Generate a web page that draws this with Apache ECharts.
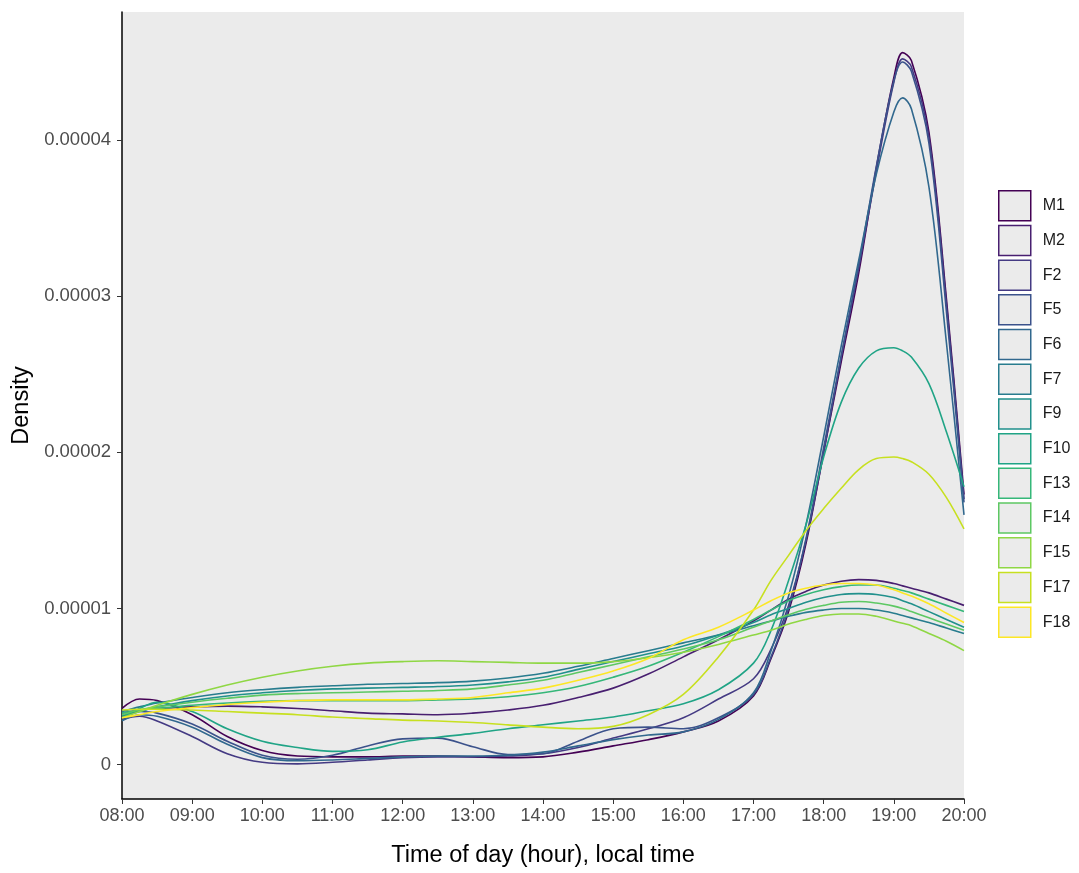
<!DOCTYPE html>
<html>
<head>
<meta charset="utf-8">
<script src="https://cdn.jsdelivr.net/npm/echarts@6/dist/echarts.min.js"></script>
<style>
  html, body { margin: 0; padding: 0; background: #fff; }
  #main { width: 1079px; height: 873px; }
</style>
</head>
<body>
<div id="main"></div>
<script type="text/javascript">
    // hours of day (decimal), shared by every series
    var hours = [8, 8.25, 8.5, 9, 9.5, 10, 10.5, 11, 11.5, 12, 12.5, 13, 13.5, 14, 14.5, 15, 15.5, 16, 16.5, 17,
        17.25, 17.5, 17.75, 18, 18.25, 18.5, 18.75, 19, 19.125, 19.25, 19.5, 19.75, 20];
    var yTicks = [0, 10, 20, 30, 40];

    // density values, in units of 1e-6
    var M1 = [3.6, 4.2, 4.1, 3.2, 1.8, 0.9, 0.55, 0.5, 0.5, 0.55, 0.55, 0.5, 0.45, 0.5, 0.8, 1.2, 1.6, 2.1, 2.8, 4.4,
        6.8, 9.8, 14.2, 20, 25.8, 31.5, 38.2, 44.0, 45.6, 45.1, 40.5, 29.8, 17.3];
    var M2 = [3.3, 3.5, 3.6, 3.7, 3.75, 3.7, 3.6, 3.45, 3.3, 3.25, 3.2, 3.3, 3.5, 3.8, 4.3, 4.9, 5.8, 6.9, 8.0, 9.2,
        9.9, 10.6, 11.1, 11.5, 11.75, 11.85, 11.8, 11.6, 11.45, 11.3, 11.0, 10.6, 10.2];
    var F2 = [2.9, 3.1, 2.8, 1.8, 0.7, 0.15, 0.05, 0.15, 0.3, 0.45, 0.5, 0.5, 0.55, 0.7, 1.1, 1.7, 2.3, 3.0, 4.2, 5.5,
        7.4, 10.2, 14.4, 20.0, 26.1, 31.8, 38.0, 43.7, 45.2, 44.7, 40.2, 29.5, 17.0];
    var F5 = [3.1, 3.4, 3.3, 2.6, 1.5, 0.6, 0.35, 0.6, 1.2, 1.65, 1.7, 1.15, 0.65, 0.7, 1.5, 2.3, 2.4, 2.3, 3.0, 4.5,
        6.9, 10.0, 14.5, 20.3, 26.2, 32.0, 38.3, 43.8, 45.0, 44.4, 39.8, 29.0, 16.8];
    var F6 = [2.8, 3.2, 3.1, 2.4, 1.3, 0.45, 0.25, 0.3, 0.4, 0.5, 0.55, 0.55, 0.6, 0.8, 1.2, 1.6, 1.9, 2.1, 2.9, 4.6,
        7.3, 10.8, 15.4, 21.0, 26.8, 32.3, 37.8, 41.8, 42.7, 42.0, 37.0, 27.0, 16.0];
    var F7 = [3.4, 3.7, 3.95, 4.3, 4.6, 4.8, 4.95, 5.05, 5.15, 5.2, 5.25, 5.35, 5.55, 5.85, 6.3, 6.8, 7.3, 7.8, 8.3, 8.9,
        9.2, 9.5, 9.75, 9.9, 10.0, 10.0, 9.9, 9.7, 9.55, 9.4, 9.1, 8.75, 8.4];
    var F9 = [3.1, 3.4, 3.7, 4.1, 4.4, 4.6, 4.75, 4.85, 4.9, 4.95, 5.0, 5.1, 5.3, 5.6, 6.1, 6.6, 7.1, 7.6, 8.3, 9.1,
        9.6, 10.0, 10.4, 10.7, 10.9, 10.95, 10.9, 10.7, 10.5, 10.3, 9.8, 9.3, 8.8];
    var F10 = [3.0, 3.6, 4.0, 3.4, 2.3, 1.5, 1.1, 0.85, 0.95, 1.45, 1.75, 2.0, 2.3, 2.55, 2.8, 3.05, 3.45, 3.9, 4.8, 6.5,
        8.6, 11.8, 15.4, 19.7, 23.2, 25.4, 26.5, 26.7, 26.5, 26.1, 24.4, 21.3, 17.8];
    var F13 = [3.3, 3.5, 3.6, 3.8, 3.95, 4.05, 4.1, 4.1, 4.1, 4.1, 4.15, 4.2, 4.35, 4.6, 5.0, 5.6, 6.3, 7.2, 8.2, 9.3,
        9.9, 10.5, 10.9, 11.2, 11.4, 11.5, 11.5, 11.3, 11.15, 11.0, 10.6, 10.2, 9.8];
    var F14 = [3.2, 3.5, 3.7, 4.0, 4.25, 4.45, 4.55, 4.6, 4.65, 4.7, 4.75, 4.85, 5.1, 5.4, 5.9, 6.4, 6.9, 7.4, 8.0, 8.8,
        9.2, 9.6, 9.95, 10.2, 10.4, 10.45, 10.35, 10.15, 10.0, 9.8, 9.4, 9.0, 8.6];
    var F15 = [3.0, 3.4, 3.8, 4.5, 5.1, 5.6, 6.0, 6.3, 6.5, 6.6, 6.65, 6.6, 6.55, 6.5, 6.5, 6.6, 6.85, 7.2, 7.7, 8.3,
        8.6, 9.0, 9.3, 9.55, 9.65, 9.65, 9.5, 9.2, 9.05, 8.9, 8.4, 7.9, 7.3];
    var F17 = [3.5, 3.55, 3.55, 3.5, 3.4, 3.3, 3.2, 3.05, 2.95, 2.85, 2.8, 2.7, 2.55, 2.4, 2.3, 2.45, 3.2, 4.5, 6.9, 9.9,
        11.8, 13.4, 15.0, 16.4, 17.7, 18.9, 19.6, 19.7, 19.6, 19.4, 18.6, 17.1, 15.1];
    var F18 = [3.0, 3.2, 3.4, 3.65, 3.85, 4.0, 4.1, 4.15, 4.15, 4.15, 4.2, 4.3, 4.6, 4.9, 5.4, 6.0, 6.8, 8.0, 8.8, 9.9,
        10.5, 11.0, 11.3, 11.5, 11.6, 11.6, 11.5, 11.2, 11.0, 10.8, 10.3, 9.7, 9.1];

    var names = ['M1', 'M2', 'F2', 'F5', 'F6', 'F7', 'F9', 'F10', 'F13', 'F14', 'F15', 'F17', 'F18'];
    var values = [M1, M2, F2, F5, F6, F7, F9, F10, F13, F14, F15, F17, F18];
    // viridis, 13 steps
    var colors = ['#440154', '#481F70', '#443A83', '#3B528B', '#31688E', '#287C8E', '#21908C',
        '#20A486', '#35B779', '#5DC863', '#8FD744', '#C7E020', '#FDE725'];

    var myChart = echarts.init(document.getElementById('main'));
    var font = 'Liberation Sans, Arial, sans-serif';

    var series = [];
    for (var i = 0; i < names.length; i++) {
        var pts = [];
        for (var j = 0; j < hours.length; j++) {
            pts.push([hours[j], values[i][j]]);
        }
        series.push({
            name: names[i],
            type: 'line',
            data: pts,
            smooth: 0.35,
            showSymbol: false,
            lineStyle: { color: colors[i], width: 1.6 },
            itemStyle: { color: colors[i] },
            emphasis: { disabled: true }
        });
    }

    var option = {
        animation: false,
        grid: {
            left: 122, right: 115, top: 12, bottom: 73,
            show: true, backgroundColor: '#EBEBEB', borderWidth: 0
        },
        legend: {
            orient: 'vertical',
            left: 998,
            top: 190,
            padding: 0,
            itemWidth: 32,
            itemHeight: 30,
            itemGap: 3.2,
            textStyle: { fontFamily: font, fontSize: 16, color: '#1a1a1a', padding: [0, 0, 0, 7] },
            data: names.map(function (n, i) {
                return {
                    name: n,
                    icon: 'rect',
                    itemStyle: { color: '#EBEBEB', borderColor: colors[i], borderWidth: 1.5 }
                };
            })
        },
        xAxis: {
            type: 'value',
            min: 8,
            max: 20,
            interval: 1,
            name: 'Time of day (hour), local time',
            nameLocation: 'middle',
            nameGap: 45,
            nameTextStyle: { fontFamily: font, fontSize: 23.5, color: '#000' },
            axisLine: { onZero: false, lineStyle: { color: '#000', width: 1.5 } },
            axisTick: { length: 5, lineStyle: { color: '#333' } },
            axisLabel: {
                fontFamily: font, fontSize: 18, color: '#4D4D4D', margin: 8,
                formatter: function (v) { return (v < 10 ? '0' : '') + v + ':00'; }
            },
            splitLine: { show: false }
        },
        yAxis: {
            type: 'value',
            min: -2.2,
            max: 48.2,
            name: 'Density',
            nameLocation: 'middle',
            nameGap: 87,
            nameTextStyle: { fontFamily: font, fontSize: 23.5, color: '#000' },
            axisLine: { show: true, onZero: false, lineStyle: { color: '#000', width: 1.5 } },
            axisTick: { show: true, length: 5, lineStyle: { color: '#333' }, customValues: yTicks },
            axisLabel: {
                fontFamily: font, fontSize: 18.5, color: '#4D4D4D', margin: 11,
                customValues: yTicks,
                formatter: function (v) { return v === 0 ? '0' : (v * 1e-6).toFixed(5); }
            },
            splitLine: { show: false }
        },
        series: series
    };
    myChart.setOption(option);
</script>
</body>
</html>
